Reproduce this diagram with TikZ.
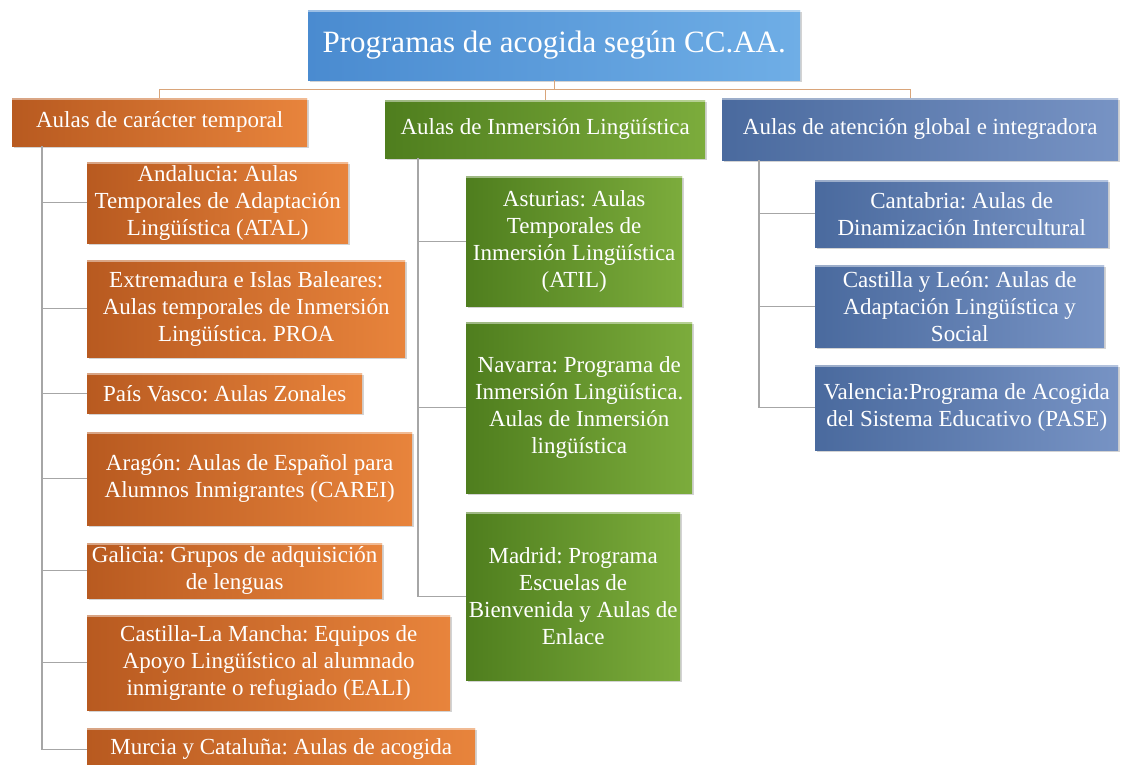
\documentclass[tikz,border=0pt]{standalone}
\usepackage{fontspec}
\setmainfont{Liberation Serif}
\usetikzlibrary{shadows,calc}

\definecolor{rootL}{HTML}{4A8BD0}
\definecolor{rootR}{HTML}{6FAEE6}
\definecolor{oraL}{HTML}{B85A20}
\definecolor{oraR}{HTML}{E8843C}
\definecolor{grnL}{HTML}{4F7E1E}
\definecolor{grnR}{HTML}{7CAC3C}
\definecolor{bluL}{HTML}{4A6A9E}
\definecolor{bluR}{HTML}{7793C4}
\definecolor{busline}{HTML}{D9A57A}
\definecolor{linkline}{HTML}{A6A6A6}

\tikzset{
  card/.style={anchor=north west, inner sep=0pt, align=center, text=white,
    font=\fontsize{23}{27}\selectfont,
    drop shadow={shadow xshift=2pt, shadow yshift=-2pt, opacity=0.35},
    path picture={\draw[white, opacity=0.45, line width=3pt]
      (path picture bounding box.north west) -- (path picture bounding box.north east);}},
  rootcard/.style={card, left color=rootL, right color=rootR, font=\fontsize{31}{36}\selectfont},
  orange/.style={card, left color=oraL, right color=oraR},
  green/.style={card, left color=grnL, right color=grnR},
  blue/.style={card, left color=bluL, right color=bluR},
  bus/.style={draw=busline, line width=1.4pt},
  link/.style={draw=linkline, line width=1.4pt},
}

\begin{document}
\frenchspacing
\begin{tikzpicture}[x=1pt, y=-1pt]
\useasboundingbox (0,0) rectangle (1122,764);

% root and the three groups
\node[rootcard, minimum width=492pt, minimum height=70pt] (root) at (308,10) {Programas de acogida según CC.AA.};
\node[orange, minimum width=295pt, minimum height=48pt] (h1) at (12,98) {Aulas de carácter temporal};
\node[green, minimum width=320pt, minimum height=58pt] (h2) at (385,100) {Aulas de Inmersión Lingüística};
\node[blue, minimum width=396pt, minimum height=62pt] (h3) at (722,98) {Aulas de atención global e integradora};

% left column
\node[orange, minimum width=261pt, minimum height=81pt] (a1) at (87,162) {Andalucia: Aulas\\Temporales de Adaptación\\Lingüística (ATAL)};
\node[orange, minimum width=318pt, minimum height=97pt] (a2) at (87,260) {Extremadura e Islas Baleares:\\Aulas temporales de Inmersión\\Lingüística. PROA};
\node[orange, minimum width=275pt, minimum height=40pt] (a3) at (87,373) {País Vasco: Aulas Zonales};
\node[orange, minimum width=325pt, minimum height=93pt] (a4) at (87,432) {Aragón: Aulas de Español para\\Alumnos Inmigrantes (CAREI)};
\node[orange, minimum width=295pt, minimum height=55pt] (a5) at (87,543) {Galicia: Grupos de adquisición\\de lenguas};
\node[orange, minimum width=363pt, minimum height=95pt] (a6) at (87,615) {Castilla-La Mancha: Equipos de\\Apoyo Lingüístico al alumnado\\inmigrante o refugiado (EALI)};
\node[orange, minimum width=388pt, minimum height=42pt] (a7) at (87,728) {Murcia y Cataluña: Aulas de acogida};

% middle column
\node[green, minimum width=216pt, minimum height=130pt] (b1) at (466,176) {Asturias: Aulas\\Temporales de\\Inmersión Lingüística\\(ATIL)};
\node[green, minimum width=226pt, minimum height=171pt] (b2) at (466,322) {Navarra: Programa de\\Inmersión Lingüística.\\Aulas de Inmersión\\lingüística};
\node[green, minimum width=214pt, minimum height=168pt] (b3) at (466,512) {Madrid: Programa\\Escuelas de\\Bienvenida y Aulas de\\Enlace};

% right column
\node[blue, minimum width=293pt, minimum height=67pt] (c1) at (815,180) {Cantabria: Aulas de\\Dinamización Intercultural};
\node[blue, minimum width=289pt, minimum height=82pt] (c2) at (815,265) {Castilla y León: Aulas de\\Adaptación Lingüística y\\Social};
\node[blue, minimum width=303pt, minimum height=85pt] (c3) at (815,365) {Valencia:Programa de Acogida\\del Sistema Educativo (PASE)};

% connectors from the root to the groups
\coordinate (split) at ($(root.south)+(0,9)$);
\draw[bus] (root.south) -- (split);
\draw[bus] (split) -| (h1.north);
\draw[bus] (split) -| (h2.north);
\draw[bus] (split) -| ($(h3.north)+(-10,0)$);

% connectors from each group to its items
\coordinate (ltrunk) at ($(h1.south west)+(30,0)$);
\foreach \n in {a1,a2,a3,a4,a5,a6,a7} \draw[link] (ltrunk) |- (\n.west);
\coordinate (mtrunk) at ($(h2.south west)+(33,0)$);
\foreach \n in {b1,b2,b3} \draw[link] (mtrunk) |- (\n.west);
\coordinate (rtrunk) at ($(h3.south west)+(37,0)$);
\foreach \n in {c1,c2,c3} \draw[link] (rtrunk) |- (\n.west);
\end{tikzpicture}
\end{document}
